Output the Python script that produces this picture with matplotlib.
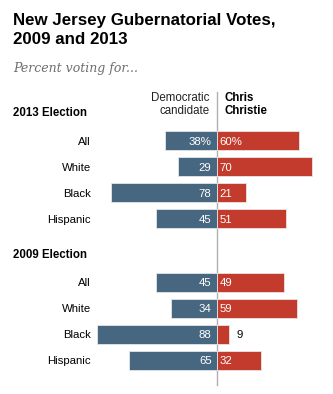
import matplotlib
matplotlib.use("Agg")
import matplotlib.pyplot as plt
from matplotlib import font_manager

groups = ["All", "White", "Black", "Hispanic"]
elections = ["2013 Election", "2009 Election"]
dem_2013 = [38, 29, 78, 45]
rep_2013 = [60, 70, 21, 51]
dem_2009 = [45, 34, 88, 65]
rep_2009 = [49, 59, 9, 32]

dem_vals = [dem_2013, dem_2009]
rep_vals = [rep_2013, rep_2009]

W, H = 333, 394
DPI = 100
fig = plt.figure(figsize=(W / DPI, H / DPI), dpi=DPI)
fig.patch.set_facecolor("white")

names = {f.name for f in font_manager.fontManager.ttflist}
sans = "Liberation Sans Narrow" if "Liberation Sans Narrow" in names else "Liberation Sans"
base = "Liberation Sans"

center_px = 217.0
ppu = 1.36
ax = fig.add_axes([0, 0, 1, 1])
ax.set_xlim(-center_px / ppu, (W - center_px) / ppu)
ax.set_ylim(H, 0)
ax.axis("off")

blue = "#46677f"
red = "#c23b2c"

section_top = [140.5, 282.5]
step = 26.0
bar_h = 18.5
fs = 8.2
base_off = 4.0

def px_to_x(px):
    return (px - center_px) / ppu

for s, (dv, rv) in enumerate(zip(dem_vals, rep_vals)):
    for i, (d, r) in enumerate(zip(dv, rv)):
        yc = section_top[s] + i * step
        yb = yc + base_off
        ax.barh(yc, -d, height=bar_h, left=0, color=blue, edgecolor="#e6e6e6", linewidth=0.6)
        ax.barh(yc, r, height=bar_h, left=0, color=red, edgecolor="#e6e6e6", linewidth=0.6)
        suffix = "%" if (s == 0 and i == 0) else ""
        ax.text(px_to_x(211.5), yb, f"{d}{suffix}", ha="right", va="baseline",
                color="white", fontsize=fs, family=base)
        if r * ppu > 18:
            ax.text(px_to_x(219.5), yb, f"{r}{suffix}", ha="left", va="baseline",
                    color="white", fontsize=fs, family=base)
        else:
            ax.text(r + px_to_x(center_px + 7.5), yb, f"{r}{suffix}", ha="left", va="baseline",
                    color="black", fontsize=fs, family=base)
        ax.text(px_to_x(91), yb, groups[i], ha="right", va="baseline",
                color="black", fontsize=fs, family=base)

# section headers
for s, yb in enumerate([115.7, 258.0]):
    ax.text(px_to_x(13), yb, elections[s], ha="left", va="baseline",
            color="black", fontsize=8.3, fontweight="bold", family=base)

# centre line
ax.plot([0, 0], [92, 385], color="#b0b0b0", linewidth=1.0, zorder=0.5)

# column headers
for txt, yb in [("Democratic", 101.0), ("candidate", 114.3)]:
    ax.text(px_to_x(209.5), yb, txt, ha="right", va="baseline",
            color="#222222", fontsize=8.3, family=base)
for txt, yb in [("Chris", 101.0), ("Christie", 114.3)]:
    ax.text(px_to_x(224.5), yb, txt, ha="left", va="baseline",
            color="black", fontsize=8.3, fontweight="bold", family=base)

# title and subtitle
fig.text(13 / W, 1 - 25 / H, "New Jersey Gubernatorial Votes,",
         ha="left", va="baseline", fontsize=12.2, fontweight="bold", family=sans,
         color="black")
fig.text(13 / W, 1 - 44 / H, "2009 and 2013",
         ha="left", va="baseline", fontsize=12.2, fontweight="bold", family=sans,
         color="black")
fig.text(13 / W, 1 - 72 / H, "Percent voting for...", ha="left", va="baseline",
         fontsize=9, style="italic", family="DejaVu Serif", color="#6e6e6e")

fig.savefig("out.png", dpi=DPI, facecolor="white")
